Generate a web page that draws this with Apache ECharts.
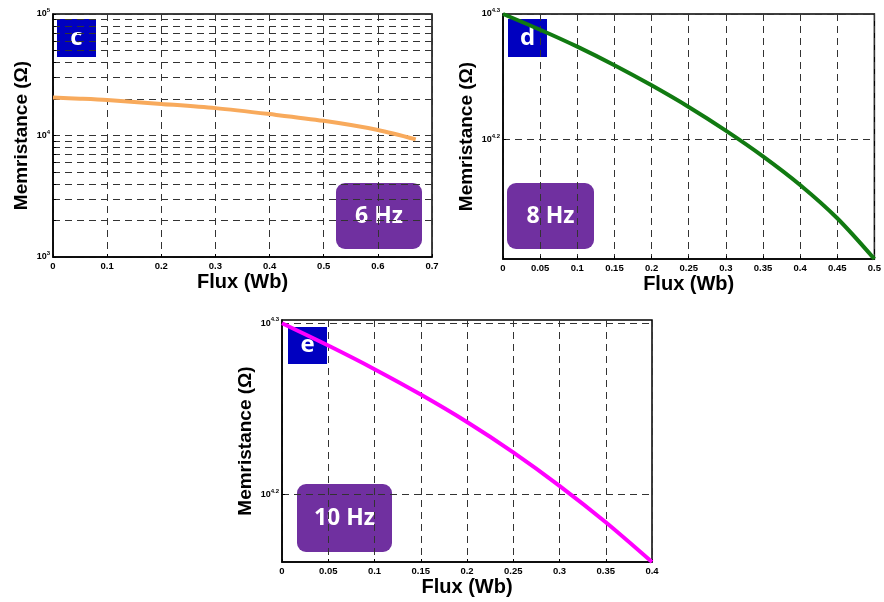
<!DOCTYPE html>
<html>
<head>
<meta charset="utf-8">
<script src="https://cdn.jsdelivr.net/npm/echarts@6/dist/echarts.min.js"></script>
<style>html,body{margin:0;padding:0;background:#fff}#root{width:884px;height:602px}</style>
</head>
<body>
<div id="root"></div>
<script>
// panel c, 6 Hz
const fluxC = [0, 0.05, 0.1, 0.2, 0.3, 0.4, 0.5, 0.6, 0.67];
const memC = [20500, 20100, 19600, 18200, 16800, 15000, 13200, 11100, 9300];
// panel d, 8 Hz
const fluxD = [0, 0.05, 0.1, 0.15, 0.2, 0.25, 0.3, 0.35, 0.4, 0.45, 0.5];
const memD = [19953, 19386, 18794, 18164, 17507, 16827, 16114, 15371, 14585, 13722, 12735];
// panel e, 10 Hz
const fluxE = [0, 0.05, 0.1, 0.15, 0.2, 0.25, 0.3, 0.35, 0.4];
const memE = [19953, 19364, 18759, 18131, 17475, 16777, 16039, 15272, 14478];

const gridC = [1000, 2000, 3000, 4000, 5000, 6000, 7000, 8000, 9000,
  10000, 20000, 30000, 40000, 50000, 60000, 70000, 80000, 90000, 100000];
const labelsC = [1000, 10000, 100000];
const labelsDE = [Math.pow(10, 4.2), Math.pow(10, 4.3)];

const font = 'Liberation Sans';
const dash = { color: '#333', type: [7, 5], width: 1 };

let root = document.getElementById('root');
let myCharts = echarts.init(root);

function pairs(xs, ys) {
  return xs.map((x, i) => [x, ys[i]]);
}

function xAxis(idx, max, interval) {
  return {
    gridIndex: idx,
    type: 'value',
    min: 0,
    max: max,
    interval: interval,
    name: 'Flux (Wb)',
    nameLocation: 'middle',
    nameGap: 15,
    nameTextStyle: { fontFamily: font, fontWeight: 'bold', fontSize: 20, color: '#000' },
    axisLine: { show: true, lineStyle: { color: '#000', width: 1.5 } },
    axisTick: { show: true, inside: true, length: 3, lineStyle: { color: '#000' } },
    axisLabel: { fontFamily: font, fontWeight: 'bold', fontSize: 9.5, color: '#000', margin: 4 },
    splitLine: { show: true, lineStyle: dash }
  };
}

function yAxis(idx, min, max, ticks, labels, gap) {
  return {
    gridIndex: idx,
    type: 'log',
    logBase: 10,
    min: min,
    max: max,
    name: 'Memristance (Ω)',
    nameLocation: 'middle',
    nameGap: gap,
    nameTextStyle: { fontFamily: font, fontWeight: 'bold', fontSize: 19, color: '#000' },
    axisLine: { show: true, lineStyle: { color: '#000', width: 1.5 } },
    axisTick: { show: true, inside: true, length: 3, customValues: ticks, lineStyle: { color: '#000' } },
    axisLabel: {
      customValues: labels,
      margin: 3,
      formatter: function (v) {
        let e = Math.round(Math.log10(v) * 10) / 10;
        return '{b|10}{s|' + e + '}';
      },
      rich: {
        b: { fontFamily: font, fontWeight: 'bold', fontSize: 9, color: '#000' },
        s: { fontFamily: font, fontWeight: 'bold', fontSize: 6, color: '#000', padding: [0, 0, 7, 0] }
      }
    },
    splitLine: { show: true, lineStyle: dash }
  };
}

function tag(x, y, w, h, text, fill, size, r) {
  return {
    type: 'group',
    left: x,
    top: y,
    children: [
      { type: 'rect', shape: { x: 0, y: 0, width: w, height: h, r: r }, style: { fill: fill } },
      {
        type: 'text',
        x: w / 2,
        y: h / 2,
        style: {
          text: text, fill: '#fff', font: 'bold ' + size + 'px "Open Sans"',
          align: 'center', verticalAlign: 'middle'
        }
      }
    ]
  };
}

let option = {
  animation: false,
  grid: [
    { left: 53, top: 14, width: 379, height: 243, show: true, borderColor: '#000', borderWidth: 1.5 },
    { left: 503, top: 14, width: 375, height: 245, show: true, borderColor: '#000', borderWidth: 1.5 },
    { left: 282, top: 320, width: 370, height: 242, show: true, borderColor: '#000', borderWidth: 1.5 }
  ],
  xAxis: [xAxis(0, 0.7, 0.1), xAxis(1, 0.5, 0.05), xAxis(2, 0.4, 0.05)],
  yAxis: [
    yAxis(0, 1000, 100000, gridC, labelsC, 22),
    yAxis(1, 12735, Math.pow(10, 4.3), labelsDE, labelsDE, 27),
    yAxis(2, 14478, 20040, labelsDE, labelsDE, 27)
  ],
  series: [
    { type: 'line', xAxisIndex: 0, yAxisIndex: 0, data: pairs(fluxC, memC), showSymbol: false, smooth: 0.3,
      lineStyle: { color: '#F8AA5C', width: 4 } },
    { type: 'line', xAxisIndex: 1, yAxisIndex: 1, data: pairs(fluxD, memD), showSymbol: false, smooth: 0.3,
      lineStyle: { color: '#117A11', width: 4 } },
    { type: 'line', xAxisIndex: 2, yAxisIndex: 2, data: pairs(fluxE, memE), showSymbol: false, smooth: 0.3,
      lineStyle: { color: '#FF00FF', width: 4 } }
  ],
  graphic: [
    tag(57, 19, 39, 38, 'c', '#0000C0', 24, 0),
    tag(508, 19, 39, 38, 'd', '#0000C0', 24, 0),
    tag(288, 327, 39, 37, 'e', '#0000C0', 24, 0),
    tag(336, 183, 86, 66, '6 Hz', '#7030A0', 23, 9),
    tag(507, 183, 87, 66, '8 Hz', '#7030A0', 23, 9),
    tag(297, 484, 95, 68, '10 Hz', '#7030A0', 23, 9)
  ]
};
myCharts.setOption(option);
</script>
</body>
</html>
